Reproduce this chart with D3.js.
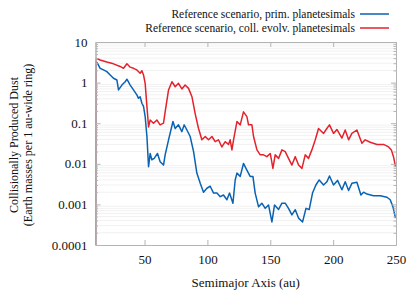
<!DOCTYPE html>
<html>
<head>
<meta charset="utf-8">
<script src="https://cdn.jsdelivr.net/npm/d3@7"></script>
<style>
    body { margin: 0; background: #fff; }
    text { font-family: "Liberation Serif", "Times New Roman", serif; fill: #111; }
</style>
</head>
<body>
<div id="chart"></div>
<script>
// semimajor axis (au) and dust mass
const auPrim = [11, 11.3, 12.5, 14.7, 17.4, 20, 22.7, 25.3, 28, 29.3, 32, 34.6, 36, 38.6, 41.2, 43.9, 45.2, 46.5, 47.9, 49.2,
    50.5, 51.9, 53.2, 54.5, 55.8, 57.7, 60.3, 62.4, 65.1, 66.4, 69.1, 72.6, 74.4, 77, 79.7, 81.5, 83.7, 86.3, 89, 91.6,
    94.3, 96.9, 99.6, 102.2, 104.9, 107.6, 110.2, 112.8, 115.5, 117.6, 120.3, 122.1, 123.5, 126.1, 128.7, 131.4, 134, 136.2, 138, 140.7,
    143.3, 146, 148.6, 151.3, 153.4, 156.6, 159.3, 161.9, 164.5, 167.2, 169.9, 172.5, 175.7, 178.4, 181, 183.6, 186.3, 188.9, 192.4, 195,
    197.1, 200.3, 203.5, 207, 209.6, 212.3, 214.9, 218.9, 222.1, 224.2, 226.9, 232.1, 237.5, 242.8, 245.4, 247.6, 249.6];
const dustPrim = [1e-5, 3.3, 3.0, 2.25, 2.05, 1.86, 1.54, 1.28, 1.16, 0.66, 0.87, 1.05, 1.21, 0.87, 0.66, 0.50, 0.41, 0.45, 0.31, 0.26,
    0.145, 0.047, 0.0085, 0.018, 0.0126, 0.0136, 0.018, 0.0112, 0.0093, 0.0166, 0.039, 0.11, 0.074, 0.091, 0.062, 0.091, 0.068, 0.047, 0.02, 0.0059,
    0.0033, 0.002, 0.0025, 0.0028, 0.0019, 0.0019, 0.00155, 0.0017, 0.0013, 0.0019, 0.00107, 0.004, 0.0059, 0.0049, 0.0102, 0.007, 0.0049, 0.0049, 0.0019, 0.00087,
    0.00107, 0.0008, 0.00097, 0.00037, 0.00097, 0.00075, 0.00107, 0.00107, 0.0008, 0.00055, 0.00074, 0.00046, 0.00037, 0.0008, 0.00075, 0.0019, 0.003, 0.004, 0.003, 0.0036,
    0.005, 0.003, 0.0039, 0.0023, 0.0036, 0.0022, 0.0033, 0.0035, 0.0017, 0.002, 0.0018, 0.00163, 0.00163, 0.0015, 0.0013, 0.00087, 0.00046];

const auColl = [11, 11.3, 14.7, 20, 25.3, 30.6, 33.3, 36, 38.6, 41.2, 43.9, 46.5, 47.9, 49.2, 50.5, 51.9, 53.2, 54.5, 57.1, 59.8,
    62.4, 65.1, 66.4, 69.1, 71.8, 74.4, 77, 79.7, 82.3, 85, 87.7, 90.3, 92.9, 95.6, 98.3, 100.9, 103.6, 106.2, 108.8, 111.5,
    114.2, 116.8, 118.1, 119.5, 120.8, 123.5, 126.1, 128.7, 131.4, 132.7, 135.4, 136.7, 139.4, 142, 144.6, 147.3, 150, 152.1, 153.9, 156.6,
    159.3, 161.9, 164.5, 167.2, 169.9, 172.5, 175.2, 177.8, 180.4, 183.1, 185.8, 188.4, 192.4, 195, 197.1, 200.3, 203, 207, 209.6, 212.3,
    214.9, 218.9, 222.9, 225.5, 229.5, 234.9, 240.1, 244.1, 246.3, 248, 249.6];
const dustColl = [1e-5, 4.0, 3.6, 3.2, 2.9, 2.5, 2.25, 2.9, 2.4, 2.25, 2.05, 1.7, 1.96, 1.54, 0.96, 0.26, 0.081, 0.12, 0.10, 0.12,
    0.091, 0.1, 0.19, 0.66, 1.05, 0.79, 0.96, 0.7, 0.87, 0.72, 0.45, 0.17, 0.075, 0.039, 0.047, 0.039, 0.047, 0.035, 0.039, 0.026,
    0.035, 0.030, 0.039, 0.022, 0.039, 0.11, 0.091, 0.19, 0.145, 0.091, 0.091, 0.047, 0.022, 0.0166, 0.0166, 0.015, 0.018, 0.0077, 0.0166, 0.0136,
    0.022, 0.020, 0.0136, 0.0093, 0.015, 0.0093, 0.0077, 0.0166, 0.0136, 0.022, 0.039, 0.074, 0.056, 0.074, 0.091, 0.056, 0.07, 0.043, 0.068, 0.039,
    0.056, 0.068, 0.032, 0.039, 0.034, 0.030, 0.030, 0.026, 0.022, 0.015, 0.0085];

const xTicks = [50, 100, 150, 200, 250];
const yTicks = [10, 1, 0.1, 0.01, 0.001, 0.0001];
const yTickLabels = ["10", "1", "0.1", "0.01", "0.001", "0.0001"];
const seriesNames = ["Reference scenario, prim. planetesimals", "Reference scenario, coll. evolv. planetesimals"];

const blue = "#0a62b2";
const red = "#e3222c";
const axisGrey = "#b4b4b4";

const w = 415, h = 297;
const margin = { top: 42, right: 19, bottom: 52, left: 95.5 };

const svg = d3.select("#chart")
    .append("svg")
    .attr("width", w)
    .attr("height", h);

const x = d3.scaleLinear()
    .domain([11, 250])
    .range([margin.left, w - margin.right]);
const y = d3.scaleLog()
    .domain([0.0001, 10])
    .range([h - margin.bottom, margin.top]);

// minor log ticks
let minor = [];
for (let e = -4; e < 1; e++) {
    for (let k = 2; k < 10; k++) minor.push(k * Math.pow(10, e));
}

// faint grid
svg.append("g")
    .selectAll("line")
    .data(minor)
    .enter()
    .append("line")
    .attr("x1", x.range()[0])
    .attr("x2", x.range()[1])
    .attr("y1", d => y(d))
    .attr("y2", d => y(d))
    .attr("stroke", "#f1f1f1")
    .attr("stroke-width", 1);

svg.append("clipPath")
    .attr("id", "plot-clip")
    .append("rect")
    .attr("x", x.range()[0])
    .attr("y", margin.top)
    .attr("width", x.range()[1] - x.range()[0])
    .attr("height", y.range()[0] - margin.top);

const line = d3.line()
    .x(d => x(d[0]))
    .y(d => y(Math.max(d[1], 1e-5)));

svg.append("path")
    .datum(d3.zip(auPrim, dustPrim))
    .attr("d", line)
    .attr("clip-path", "url(#plot-clip)")
    .attr("fill", "none")
    .attr("stroke", blue)
    .attr("stroke-width", 1.5)
    .attr("stroke-linejoin", "round");

svg.append("path")
    .datum(d3.zip(auColl, dustColl))
    .attr("d", line)
    .attr("clip-path", "url(#plot-clip)")
    .attr("fill", "none")
    .attr("stroke", red)
    .attr("stroke-width", 1.5)
    .attr("stroke-linejoin", "round");

// frame and ticks
const gBottom = svg.append("g")
    .attr("transform", "translate(0," + y.range()[0] + ")")
    .call(d3.axisBottom(x).tickValues(xTicks).tickSizeInner(-5).tickSizeOuter(0).tickPadding(10));
const gTop = svg.append("g")
    .attr("transform", "translate(0," + margin.top + ")")
    .call(d3.axisTop(x).tickValues(xTicks).tickSizeInner(-5).tickSizeOuter(0).tickFormat(""));
const gLeft = svg.append("g")
    .attr("transform", "translate(" + margin.left + ",0)")
    .call(d3.axisLeft(y).tickValues(yTicks).tickSizeInner(-5).tickSizeOuter(0).tickPadding(8)
        .tickFormat((d, i) => yTickLabels[i]));
const gRight = svg.append("g")
    .attr("transform", "translate(" + x.range()[1] + ",0)")
    .call(d3.axisRight(y).tickValues(yTicks).tickSizeInner(-5).tickSizeOuter(0).tickFormat(""));
const gLeftMinor = svg.append("g")
    .attr("transform", "translate(" + margin.left + ",0)")
    .call(d3.axisLeft(y).tickValues(minor).tickSizeInner(-2.5).tickSizeOuter(0).tickFormat(""));
const gRightMinor = svg.append("g")
    .attr("transform", "translate(" + x.range()[1] + ",0)")
    .call(d3.axisRight(y).tickValues(minor).tickSizeInner(-2.5).tickSizeOuter(0).tickFormat(""));

[gBottom, gTop, gLeft, gRight, gLeftMinor, gRightMinor].forEach(g => {
    g.selectAll("path").attr("stroke", axisGrey);
    g.selectAll("line").attr("stroke", axisGrey);
    g.selectAll("text")
        .style("font-family", "Liberation Serif, serif")
        .style("font-size", "13px")
        .attr("fill", "#111");
});

// axis titles
svg.append("text")
    .attr("x", (x.range()[0] + x.range()[1]) / 2)
    .attr("y", 287)
    .attr("text-anchor", "middle")
    .style("font-size", "13px")
    .text("Semimajor Axis (au)");

const ylab = svg.append("text")
    .attr("transform", "translate(18,145) rotate(-90)")
    .attr("text-anchor", "middle")
    .style("font-size", "12px");
ylab.append("tspan")
    .attr("x", 0)
    .attr("y", 0)
    .text("Collisionally Produced Dust");
ylab.append("tspan")
    .attr("x", 0)
    .attr("y", 14)
    .text("(Earth masses per 1 au-wide ring)");

// legend
const legend = svg.append("g")
    .selectAll("g")
    .data(seriesNames)
    .enter()
    .append("g")
    .attr("transform", (d, i) => "translate(0," + (14 + i * 14) + ")");
legend.append("text")
    .attr("x", 355)
    .attr("y", 4)
    .attr("text-anchor", "end")
    .style("font-size", "11.5px")
    .text(d => d);
legend.append("line")
    .attr("x1", 360)
    .attr("x2", 389)
    .attr("stroke", (d, i) => i == 0 ? blue : red)
    .attr("stroke-width", 1.5);
</script>
</body>
</html>
